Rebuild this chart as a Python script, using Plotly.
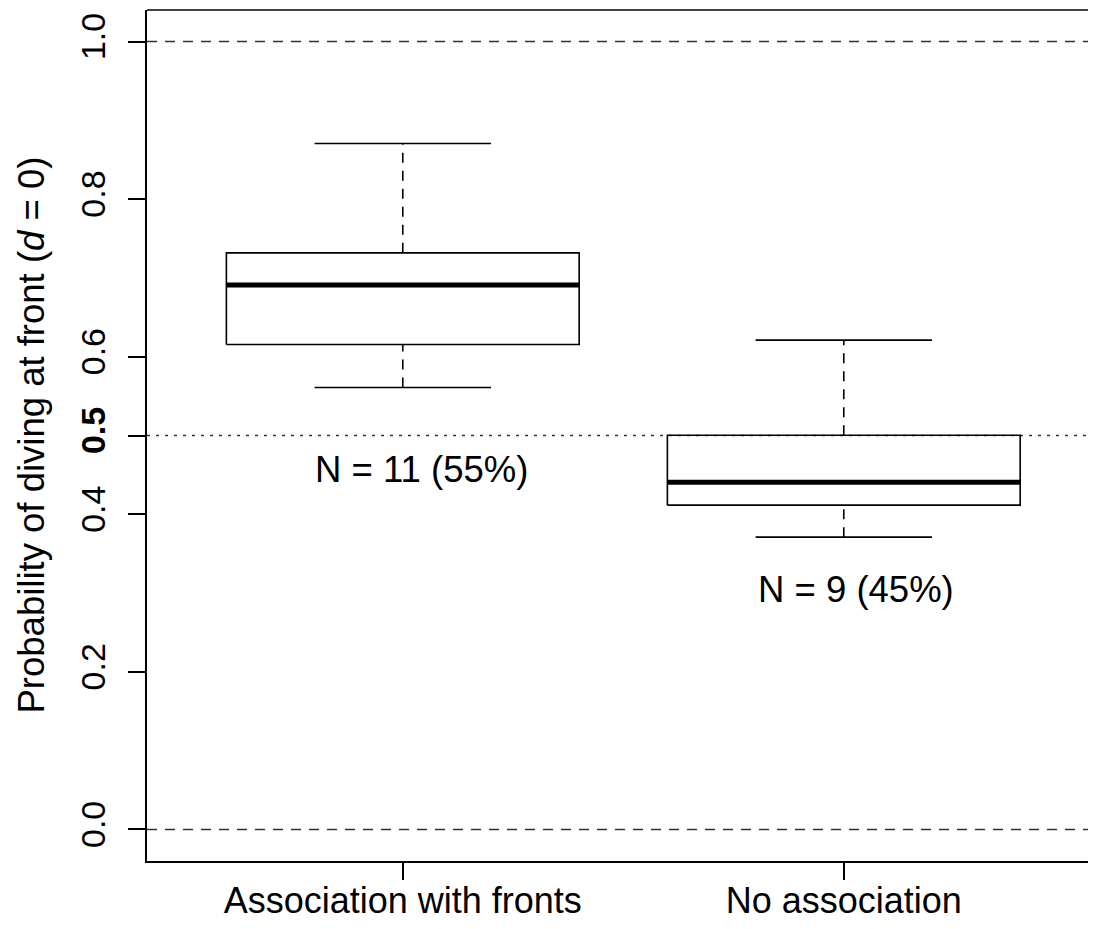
import plotly.graph_objects as go

# ---- data ----
categories = ["Association with fronts", "No association"]
positions = [1, 2]
lower_whisker = [0.561, 0.371]
q1 = [0.6155, 0.4116]
median = [0.691, 0.4408]
q3 = [0.7318, 0.5004]
upper_whisker = [0.8706, 0.621]

ref_dashed = [0.0, 1.0]
ref_dotted = [0.5]

label_texts = ["N = 11 (55%)", "N = 9 (45%)"]
label_x = [1.042, 2.028]
label_y = [0.457, 0.3046]

ytick_vals = [0.0, 0.2, 0.4, 0.5, 0.6, 0.8, 1.0]
ytick_text = ["0.0", "0.2", "0.4", "<b>0.5</b>", "0.6", "0.8", "1.0"]

FONT = "Liberation Sans, Arial, Helvetica, sans-serif"
FS = 36.5
FS_TICK = 34
BOXW = 0.4
CAPW = 0.2
DASH = "10px,8px"

W, H = 1080, 913
ML, MT, MB = 139, 2, 60
PW = W - ML

fig = go.Figure()

for i, p in enumerate(positions):
    fig.add_trace(go.Scatter(
        x=[p - BOXW, p + BOXW, p + BOXW, p - BOXW, p - BOXW],
        y=[q1[i], q1[i], q3[i], q3[i], q1[i]],
        mode="lines", line=dict(color="black", width=1.6),
        hoverinfo="skip", showlegend=False))
    fig.add_trace(go.Scatter(
        x=[p, p], y=[q3[i], upper_whisker[i]], mode="lines",
        line=dict(color="black", width=1.6, dash=DASH),
        hoverinfo="skip", showlegend=False))
    fig.add_trace(go.Scatter(
        x=[p, p], y=[lower_whisker[i], q1[i]], mode="lines",
        line=dict(color="black", width=1.6, dash=DASH),
        hoverinfo="skip", showlegend=False))
    for v in (upper_whisker[i], lower_whisker[i]):
        fig.add_trace(go.Scatter(
            x=[p - CAPW, p + CAPW], y=[v, v], mode="lines",
            line=dict(color="black", width=1.6),
            hoverinfo="skip", showlegend=False))
    fig.add_trace(go.Scatter(
        x=[p - BOXW, p + BOXW], y=[median[i], median[i]], mode="lines",
        line=dict(color="black", width=5),
        hoverinfo="skip", showlegend=False))

for v in ref_dashed:
    fig.add_shape(type="line", xref="paper", yref="y", x0=0, x1=1, y0=v, y1=v,
                  line=dict(color="#333", width=1.6, dash=DASH), layer="below")
for v in ref_dotted:
    fig.add_shape(type="line", xref="paper", yref="y", x0=0, x1=1, y0=v, y1=v,
                  line=dict(color="#333", width=1.6, dash="3px,6px"), layer="below")

# top frame line (plot region continues past the right edge)
fig.add_shape(type="line", xref="paper", yref="paper", x0=0, x1=1, y0=1, y1=1,
              line=dict(color="black", width=1.6))

for t, xx, yy in zip(label_texts, label_x, label_y):
    fig.add_annotation(x=xx, y=yy, xref="x", yref="y", text=t, showarrow=False,
                       xanchor="center", yanchor="middle",
                       font=dict(family=FONT, size=FS, color="black"))

fig.add_annotation(x=(23 - ML) / PW, y=0.5, xref="paper", yref="paper",
                   text="Probability of diving at front (<i>d</i> = 0)",
                   textangle=-90, showarrow=False, xanchor="center", yanchor="middle",
                   font=dict(family=FONT, size=FS, color="black"))

fig.update_layout(
    template="none",
    width=W, height=H,
    margin=dict(l=ML, r=0, t=MT, b=MB, pad=0),
    paper_bgcolor="white", plot_bgcolor="white",
    font=dict(family=FONT, size=FS, color="black"),
    xaxis=dict(range=[0.42, 0.42 + PW / 441], tickvals=positions, ticktext=categories,
               tickfont=dict(size=36), automargin=False,
               showgrid=False, zeroline=False, showline=True, mirror=False,
               linecolor="black", linewidth=1.6, ticks="outside", ticklen=17,
               tickwidth=1.6, tickcolor="black", ticklabelstandoff=-10),
    yaxis=dict(range=[-0.04, 1.04], tickvals=ytick_vals, ticktext=ytick_text,
               tickfont=dict(size=FS_TICK), automargin=False,
               tickangle=-90, showgrid=False, zeroline=False, showline=True,
               linecolor="black", linewidth=1.6, ticks="outside", ticklen=17,
               tickwidth=1.6, tickcolor="black", ticklabelstandoff=10),
)

fig.write_html("out.html")
